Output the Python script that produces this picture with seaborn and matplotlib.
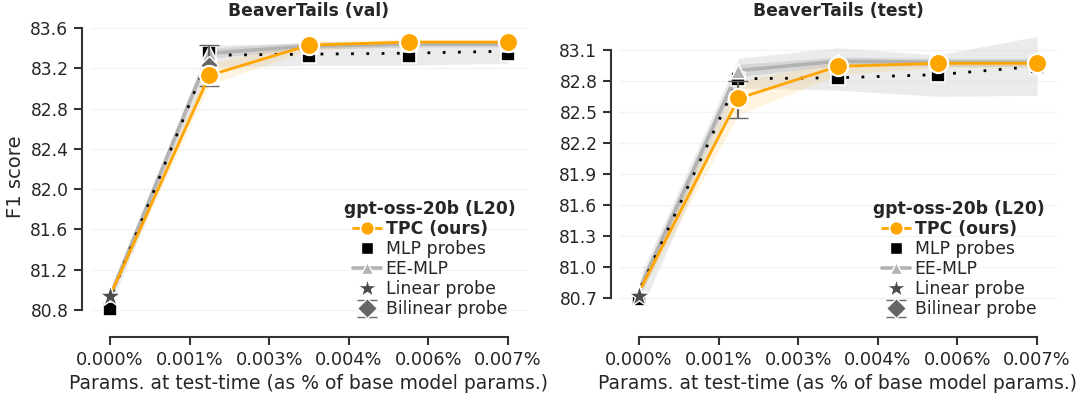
import numpy as np
import pandas as pd
import matplotlib
matplotlib.use("Agg")
import matplotlib.pyplot as plt
from matplotlib.lines import Line2D
import seaborn as sns

# ---------------- data ----------------
x_pts = [0.0, 0.00175, 0.0035, 0.00525, 0.007]          # % of base model params
x_line = [0.00005, 0.00175, 0.0035, 0.00525, 0.007]

panels = ["BeaverTails (val)", "BeaverTails (test)"]

# TPC (ours)
tpc_val = [81.00, 83.13, 83.43, 83.46, 83.46]
tpc_val_lo = [80.97, 83.04, 83.38, 83.43, 83.43]
tpc_val_hi = [81.03, 83.25, 83.47, 83.49, 83.49]
tpc_test = [80.81, 82.63, 82.94, 82.97, 82.97]
tpc_test_lo = [80.77, 82.47, 82.86, 82.93, 82.93]
tpc_test_hi = [80.85, 82.80, 82.98, 83.00, 83.00]

# EE-MLP
ee_val = [81.00, 83.35, 83.42, 83.44, 83.44]
ee_val_lo = [80.95, 83.30, 83.39, 83.41, 83.41]
ee_val_hi = [81.05, 83.40, 83.46, 83.47, 83.47]
ee_test = [80.83, 82.90, 82.99, 82.98, 82.98]
ee_test_lo = [80.75, 82.84, 82.95, 82.94, 82.94]
ee_test_hi = [80.90, 82.96, 83.03, 83.02, 83.02]

# MLP probes (mean trend, dotted) and band
mlpm_val = [80.98, 83.33, 83.34, 83.35, 83.37]
mlpm_val_lo = [80.90, 83.21, 83.23, 83.23, 83.25]
mlpm_val_hi = [81.05, 83.43, 83.45, 83.46, 83.47]
mlpm_test = [80.82, 82.82, 82.83, 82.86, 82.94]
mlpm_test_lo = [80.60, 82.73, 82.71, 82.65, 82.66]
mlpm_test_hi = [80.95, 83.02, 83.12, 83.05, 83.23]

# MLP probes (points)
mlp_val = [80.81, 83.35, 83.32, 83.32, 83.34]
mlp_test = [80.69, 82.82, 82.83, 82.86, 82.93]

# Linear probe (x = 0)
lin_val = 80.94
lin_test = 80.72

# Bilinear probe (x = 0.00175)
bil_x = 0.00175
bil_val, bil_val_err = 83.23, 0.205
bil_test, bil_test_err = 82.62, 0.18

yticks_val = [80.8, 81.2, 81.6, 82.0, 82.4, 82.8, 83.2, 83.6]
yticks_test = [80.7, 81.0, 81.3, 81.6, 81.9, 82.2, 82.5, 82.8, 83.1]
ylims = [(80.61, 83.64), (80.40, 83.35)]
xticks = list(np.linspace(0, 0.007, 6))

legend_title = "gpt-oss-20b (L20)"
legend_labels = ["TPC (ours)", "MLP probes", "EE-MLP", "Linear probe", "Bilinear probe"]

# ---------------- style ----------------
sns.set_theme(style="ticks")
plt.rcParams["font.family"] = ["DejaVu Sans"]
plt.rcParams["text.color"] = "#262626"
plt.rcParams["axes.labelcolor"] = "#262626"
plt.rcParams["xtick.color"] = "#262626"
plt.rcParams["ytick.color"] = "#262626"

ORANGE = "#FFA500"
EEGRAY = "#b3b3b3"
STAR = "#4d4d4d"
BIL = "#666666"

fig = plt.figure(figsize=(10.8, 3.96), dpi=100)
axes = [fig.add_axes([0.0833, 0.1692, 0.4056, 0.7702]),
        fig.add_axes([0.5731, 0.1692, 0.4056, 0.7702])]

sets = [
    dict(tpc=tpc_val, tlo=tpc_val_lo, thi=tpc_val_hi, ee=ee_val, elo=ee_val_lo, ehi=ee_val_hi,
         mm=mlpm_val, mlo=mlpm_val_lo, mhi=mlpm_val_hi, mlp=mlp_val,
         lin=lin_val, bil=bil_val, bile=bil_val_err, yt=yticks_val),
    dict(tpc=tpc_test, tlo=tpc_test_lo, thi=tpc_test_hi, ee=ee_test, elo=ee_test_lo, ehi=ee_test_hi,
         mm=mlpm_test, mlo=mlpm_test_lo, mhi=mlpm_test_hi, mlp=mlp_test,
         lin=lin_test, bil=bil_test, bile=bil_test_err, yt=yticks_test),
]

for i, (ax, d) in enumerate(zip(axes, sets)):
    ax.set_ylim(*ylims[i])
    ax.grid(axis="y", color="#f3f3f3", lw=1.0, zorder=0)
    ax.set_axisbelow(True)

    # bands
    ax.fill_between(x_line, d["mlo"], d["mhi"], color="#d9d9d9", alpha=0.5, lw=0, zorder=1)
    ax.fill_between(x_line, d["elo"], d["ehi"], color="#bdbdbd", alpha=0.45, lw=0, zorder=1)
    ax.fill_between(x_line, d["tlo"], d["thi"], color=ORANGE, alpha=0.12, lw=0, zorder=1)

    df_line = pd.DataFrame({"x": x_line, "tpc": d["tpc"], "ee": d["ee"], "mm": d["mm"]})

    # EE-MLP line
    sns.lineplot(data=df_line, x="x", y="ee", ax=ax, color=EEGRAY, lw=2.6, zorder=3,
                 estimator=None)
    # MLP dotted trend
    sns.lineplot(data=df_line, x="x", y="mm", ax=ax, color="black", lw=2.0, zorder=4,
                 linestyle=(0, (1, 4.5)), estimator=None)
    # MLP points
    sns.scatterplot(x=x_pts, y=d["mlp"], ax=ax, marker="s", s=95, color="black",
                    edgecolor="white", linewidth=1.2, zorder=5)
    # EE-MLP markers
    sns.scatterplot(x=x_line[1:], y=d["ee"][1:], ax=ax, marker="^", s=110, color=EEGRAY,
                    edgecolor="white", linewidth=1.2, zorder=6)
    # Bilinear probe
    ax.errorbar([bil_x], [d["bil"]], yerr=[d["bile"]], fmt="D", color=BIL, ms=9,
                mec="white", mew=1.0, capsize=7, elinewidth=1.5, capthick=1.5, zorder=7)
    # TPC
    sns.lineplot(data=df_line, x="x", y="tpc", ax=ax, color=ORANGE, lw=2.0, zorder=8,
                 estimator=None)
    sns.scatterplot(x=x_line[1:], y=d["tpc"][1:], ax=ax, marker="o", s=190, color=ORANGE,
                    edgecolor="white", linewidth=1.6, zorder=9)
    # Linear probe
    sns.scatterplot(x=[0.0], y=[d["lin"]], ax=ax, marker="*", s=260, color=STAR,
                    edgecolor="white", linewidth=1.0, zorder=10)

    ax.set_xticks(xticks)
    ax.set_xticklabels(["{:.3f}%".format(v) for v in xticks])
    ax.set_yticks(d["yt"])
    ax.set_yticklabels(["{:.1f}".format(v) for v in d["yt"]])
    ax.set_xlim(-0.00035, 0.00735)
    ax.set_ylim(*ylims[i])
    ax.tick_params(axis="x", labelsize=12.8)
    ax.tick_params(axis="y", labelsize=12.3)
    ax.tick_params(length=6, width=1.5, color="#333333")
    for s in ax.spines.values():
        s.set_linewidth(1.5)
        s.set_color("#333333")
    ax.set_xlabel("Params. at test-time (as % of base model params.)", fontsize=13.5)
    ax.set_ylabel("F1 score" if i == 0 else "", fontsize=14)
    ax.set_title(panels[i], fontsize=12.3, fontweight="bold", color="#262626")
    sns.despine(ax=ax, offset=6, trim=True)

    # legend
    h_tpc = Line2D([], [], color=ORANGE, lw=2.0, marker="o", ms=10, mec="white", mew=1.2)
    h_mlp = Line2D([], [], color="black", lw=0, marker="s", ms=9, mec="white", mew=1.0)
    h_ee = Line2D([], [], color=EEGRAY, lw=2.6, marker="^", ms=9, mec="white", mew=1.0)
    h_lin = Line2D([], [], color=STAR, lw=0, marker="*", ms=15, mec="white", mew=1.0)
    bl = ax.errorbar([np.nan], [np.nan], yerr=[0.1], fmt="D", color=BIL, ms=10, mec="white",
                     mew=1.0, capsize=7, elinewidth=1.2, capthick=1.2, ls="none")
    leg = ax.legend([h_tpc, h_mlp, h_ee, h_lin, bl], legend_labels,
                    title=legend_title, loc="lower right", bbox_to_anchor=(1.0, -0.005),
                    frameon=False, fontsize=12.4,
                    title_fontproperties={"weight": "bold", "size": 12.3},
                    handlelength=1.6, handletextpad=0.3, labelspacing=0.12, borderpad=0.2)
    leg.get_texts()[0].set_fontweight("bold")

fig.savefig("out.png", dpi=100)
